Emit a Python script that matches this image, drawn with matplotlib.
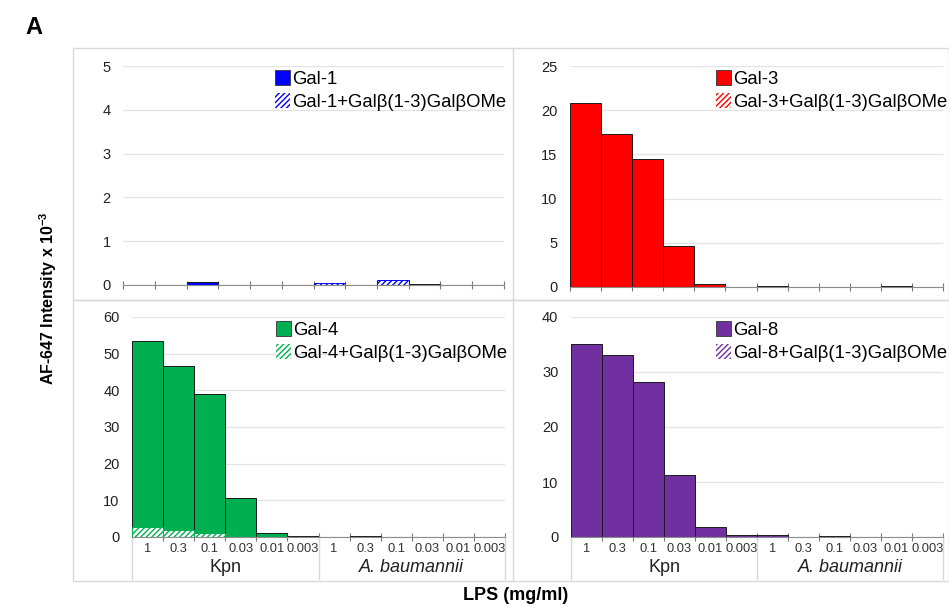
import matplotlib
matplotlib.use("Agg")
import matplotlib.pyplot as plt
from matplotlib.patches import Patch
from matplotlib.lines import Line2D
import matplotlib.transforms as mtransforms
import numpy as np

plt.rcParams.update({
    "font.family": ["Liberation Sans", "DejaVu Sans"],
    "hatch.linewidth": 1.0,
})

# LPS dilutions (mg/ml), repeated for each strain
CONC = ["1", "0.3", "0.1", "0.03", "0.01", "0.003"]
STRAINS = ["Kpn", "A. baumannii"]
TICK_LABELS = CONC + CONC

# AF-647 intensity x 10^-3
GAL1 = [0, 0, 0.07, 0, 0, 0, 0, 0, 0, 0.02, 0, 0]
GAL1_INH = [0, 0, 0, 0, 0, 0, 0.05, 0, 0.12, 0, 0, 0]
GAL3 = [20.8, 17.3, 14.5, 4.6, 0.3, 0.05, 0.1, 0, 0, 0, 0.08, 0]
GAL3_INH = [0, 0, 0, 0, 0, 0, 0, 0, 0, 0, 0, 0]
GAL4 = [53.5, 46.7, 39.1, 10.7, 1.1, 0.4, 0, 0.3, 0, 0, 0, 0]
GAL4_INH = [2.6, 1.9, 1.2, 0, 0, 0, 0, 0, 0, 0, 0, 0]
GAL8 = [35.0, 33.0, 28.2, 11.2, 1.8, 0.3, 0.3, 0, 0.15, 0, 0, 0]
GAL8_INH = [0, 0, 0, 0, 0, 0, 0, 0, 0, 0, 0, 0]

PANELS = [
    # name, solid, inhibited, colour, ymax, ystep, axes rect (px), show x labels, legend x
    ("Gal-1", GAL1, GAL1_INH, "#0000FF", 5, 1, (123, 66, 504, 285), False, 0.399),
    ("Gal-3", GAL3, GAL3_INH, "#FF0000", 25, 5, (570, 66, 943, 287), False, 0.391),
    ("Gal-4", GAL4, GAL4_INH, "#00B050", 60, 10, (132, 317, 505, 537), True, 0.386),
    ("Gal-8", GAL8, GAL8_INH, "#7030A0", 40, 10, (571, 317, 943, 537), True, 0.390),
]

W, H = 949, 607
fig = plt.figure(figsize=(W / 100, H / 100), dpi=100)

# chart-area borders (light grey, like the spreadsheet panels)
border = "#D9D9D9"
for (x0, y0, x1, y1) in [(73, 48, 949, 300), (73, 300, 949, 581)]:
    fig.add_artist(plt.Rectangle((x0 / W, 1 - y1 / H), (x1 - x0) / W, (y1 - y0) / H,
                                 transform=fig.transFigure, fill=False,
                                 edgecolor=border, linewidth=1.0))
fig.add_artist(Line2D([513 / W, 513 / W], [1 - 581 / H, 1 - 48 / H],
                      transform=fig.transFigure, color=border, linewidth=1.0))

for name, solid, inh, color, ymax, ystep, (x0, y0, x1, y1), xlab, legx in PANELS:
    ax = fig.add_axes([x0 / W, 1 - y1 / H, (x1 - x0) / W, (y1 - y0) / H])
    x = np.arange(len(solid))
    ax.bar(x, solid, width=1.0, color=color, edgecolor="#1a1a1a",
           linewidth=0.7, zorder=3)
    ax.bar(x, inh, width=1.0, facecolor="white", edgecolor=color,
           hatch="//////", linewidth=0.7, zorder=4)

    ax.set_xlim(-0.5, len(solid) - 0.5)
    ax.set_ylim(0, ymax)
    ax.set_yticks(np.arange(0, ymax + ystep / 2, ystep))
    ax.grid(axis="y", color="#E3E3E3", linewidth=0.9, zorder=0)
    for s in ["top", "right", "left"]:
        ax.spines[s].set_visible(False)
    ax.spines["bottom"].set_color("#8C8C8C")
    ax.spines["bottom"].set_zorder(5)
    ax.tick_params(axis="y", length=0, pad=9, labelsize=10.5, labelcolor="#222222")

    # boundary ticks crossing the axis
    ax.set_xticks(np.arange(-0.5, len(solid)), minor=True)
    ax.tick_params(axis="x", which="minor", direction="inout", length=6,
                   color="#777777", width=0.8)
    if xlab:
        ax.set_xticks(x)
        ax.set_xticklabels(TICK_LABELS)
        ax.tick_params(axis="x", which="major", length=0, pad=4,
                       labelsize=9.3, labelcolor="#333333")
        trans = mtransforms.blended_transform_factory(ax.transData, ax.transAxes)
        for bx in [-0.5, 5.5, 11.5]:
            ax.add_artist(Line2D([bx, bx], [0, -0.19], transform=trans,
                                 color=border, linewidth=1.0, clip_on=False))
        ax.text(2.5, -0.14, STRAINS[0], transform=trans, ha="center",
                va="center", fontsize=13, color="#222222")
        ax.text(8.5, -0.14, STRAINS[1], transform=trans, ha="center",
                va="center", fontsize=13, style="italic", color="#222222")
    else:
        ax.set_xticks([])

    handles = [Patch(facecolor=color, edgecolor="#333333", linewidth=0.6),
               Patch(facecolor="white", edgecolor=color, hatch="//////", linewidth=0)]
    labels = [name, name + "+Gal\u03b2(1-3)Gal\u03b2OMe"]
    ax.legend(handles, labels, loc="upper left", frameon=False,
              bbox_to_anchor=(legx, 0.98), fontsize=13.3, handlelength=0.8,
              handleheight=0.8, handletextpad=0.12, labelspacing=0.3,
              borderpad=0, borderaxespad=0)

fig.text(25 / W, 1 - 28 / H, "A", fontsize=17, fontweight="bold",
         ha="left", va="center")
fig.text(48 / W, 1 - 298 / H, "AF-647 Intensity x 10$^{\\mathregular{-3}}$",
         rotation=90, fontsize=11.5, fontweight="bold", ha="center", va="center")
fig.text(516 / W, 1 - 596 / H, "LPS (mg/ml)", fontsize=13, fontweight="bold",
         ha="center", va="center")

fig.savefig("out.png", dpi=100)
